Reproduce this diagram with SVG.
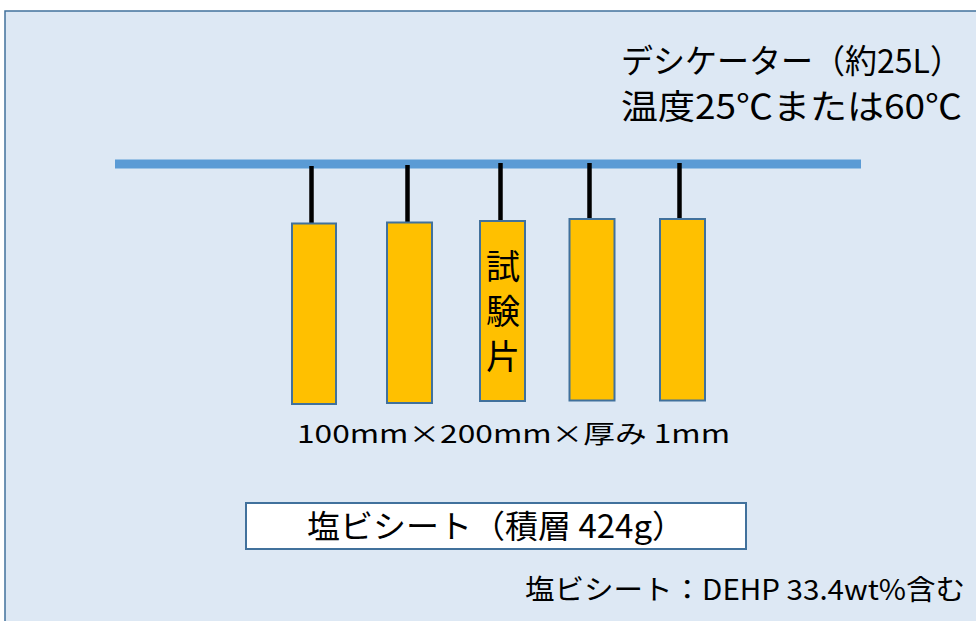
<svg xmlns="http://www.w3.org/2000/svg" width="976" height="621" viewBox="0 0 976 621">
<style>
.t{font-family:"Noto Sans CJK JP","Noto Sans",sans-serif;fill:#000}
.piece{fill:#ffc000;stroke:#41719c;stroke-width:2}
.str{stroke:#000;stroke-width:4.5}
</style>
<rect x="0" y="0" width="976" height="621" fill="#ffffff"/>
<rect id="bg" x="5" y="11" width="980" height="620" fill="#dde8f4" stroke="#41719c" stroke-width="1.5"/>
<g id="title">
<text class="t" x="621" y="73" font-size="33" textLength="341" lengthAdjust="spacingAndGlyphs">デシケーター（約25L）</text>
<text class="t" x="621" y="119" font-size="34" textLength="341" lengthAdjust="spacingAndGlyphs">温度25℃または60℃</text>
</g>
<g id="bar"><rect x="115" y="159.5" width="746" height="9" fill="#5b9bd5"/></g>
<g id="connectors">
<line class="str" x1="311.5" y1="166" x2="311.5" y2="224"/>
<line class="str" x1="407.5" y1="165" x2="407.5" y2="223"/>
<line class="str" x1="500.5" y1="163" x2="500.5" y2="221"/>
<line class="str" x1="589.5" y1="163" x2="589.5" y2="219"/>
<line class="str" x1="679.5" y1="163" x2="679.5" y2="219"/>
</g>
<g id="piece1"><rect class="piece" x="292" y="223.5" width="44" height="180.5"/></g>
<g id="piece2"><rect class="piece" x="387" y="222.5" width="45" height="180.5"/></g>
<g id="piece3"><rect class="piece" x="480" y="221" width="45" height="180"/>
<text class="t" x="503" y="249" font-size="34" style="writing-mode:vertical-rl" letter-spacing="11">試験片</text>
</g>
<g id="piece4"><rect class="piece" x="569.5" y="219" width="45" height="181.5"/></g>
<g id="piece5"><rect class="piece" x="660" y="219" width="45" height="181.5"/></g>
<g id="size"><text class="t" x="297" y="443" font-size="25" textLength="433" lengthAdjust="spacingAndGlyphs">100mm×200mm×厚み 1mm</text></g>
<g id="sheet"><rect x="246" y="503" width="500" height="46" fill="#ffffff" stroke="#41719c" stroke-width="2"/>
<text class="t" x="307" y="538" font-size="32" textLength="378" lengthAdjust="spacingAndGlyphs">塩ビシート（積層 424g）</text></g>
<g id="note"><text class="t" x="525" y="600" font-size="28" textLength="440" lengthAdjust="spacingAndGlyphs">塩ビシート：DEHP 33.4wt%含む</text></g>
</svg>
